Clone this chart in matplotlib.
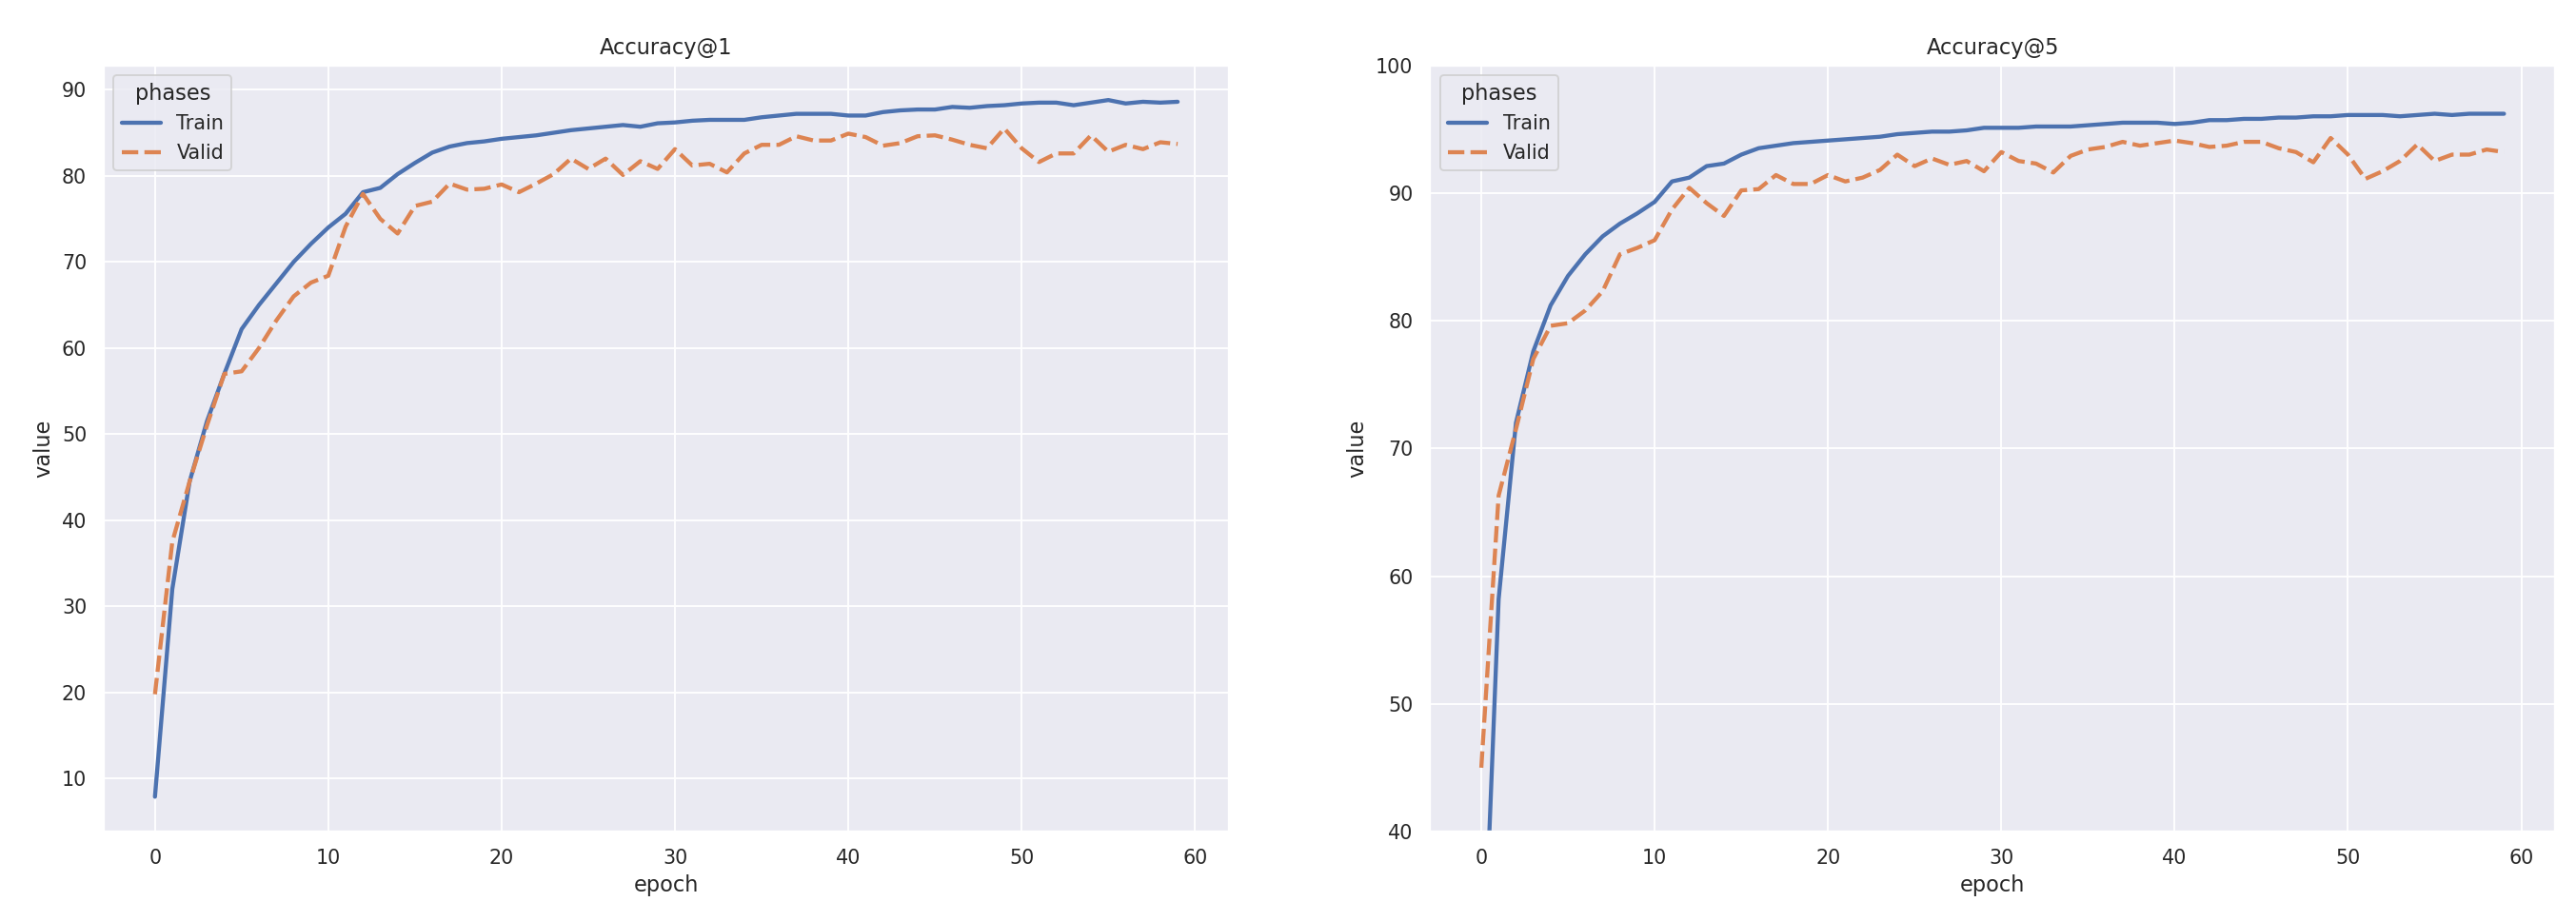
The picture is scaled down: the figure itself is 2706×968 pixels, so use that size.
import numpy as np
import pandas as pd
import matplotlib
matplotlib.use("Agg")
import matplotlib.pyplot as plt
import seaborn as sns

epochs = list(range(60))
phases = ["Train", "Valid"]

acc1_train = [7.9, 32.0, 44.5, 51.5, 57.0, 62.2, 65.0, 67.5, 70.0, 72.1,
              74.0, 75.6, 78.1, 78.6, 80.2, 81.5, 82.7, 83.4, 83.8, 84.0,
              84.3, 84.5, 84.7, 85.0, 85.3, 85.5, 85.7, 85.9, 85.7, 86.1,
              86.2, 86.4, 86.5, 86.5, 86.5, 86.8, 87.0, 87.2, 87.2, 87.2,
              87.0, 87.0, 87.4, 87.6, 87.7, 87.7, 88.0, 87.9, 88.1, 88.2,
              88.4, 88.5, 88.5, 88.2, 88.5, 88.8, 88.4, 88.6, 88.5, 88.6]
acc1_valid = [19.8, 37.5, 44.5, 51.0, 57.0, 57.3, 60.0, 63.2, 66.0, 67.6,
              68.4, 74.1, 77.9, 75.0, 73.3, 76.5, 77.0, 79.1, 78.4, 78.5,
              79.0, 78.1, 79.1, 80.2, 82.0, 80.8, 82.0, 80.1, 81.7, 80.8,
              83.1, 81.2, 81.4, 80.4, 82.6, 83.6, 83.6, 84.6, 84.1, 84.1,
              84.9, 84.5, 83.5, 83.8, 84.6, 84.7, 84.2, 83.6, 83.2, 85.5,
              83.2, 81.6, 82.6, 82.6, 84.7, 82.8, 83.6, 83.1, 83.9, 83.7]
acc5_train = [24.0, 58.2, 72.0, 77.6, 81.2, 83.5, 85.2, 86.6, 87.6, 88.4,
              89.3, 90.9, 91.2, 92.1, 92.3, 93.0, 93.5, 93.7, 93.9, 94.0,
              94.1, 94.2, 94.3, 94.4, 94.6, 94.7, 94.8, 94.8, 94.9, 95.1,
              95.1, 95.1, 95.2, 95.2, 95.2, 95.3, 95.4, 95.5, 95.5, 95.5,
              95.4, 95.5, 95.7, 95.7, 95.8, 95.8, 95.9, 95.9, 96.0, 96.0,
              96.1, 96.1, 96.1, 96.0, 96.1, 96.2, 96.1, 96.2, 96.2, 96.2]
acc5_valid = [45.0, 66.3, 71.5, 77.0, 79.6, 79.8, 80.8, 82.3, 85.2, 85.7,
              86.3, 88.7, 90.4, 89.2, 88.2, 90.2, 90.3, 91.4, 90.7, 90.7,
              91.4, 90.9, 91.2, 91.8, 93.0, 92.1, 92.7, 92.2, 92.5, 91.7,
              93.2, 92.5, 92.3, 91.6, 92.9, 93.4, 93.6, 94.0, 93.7, 93.9,
              94.1, 93.9, 93.6, 93.7, 94.0, 94.0, 93.5, 93.2, 92.4, 94.3,
              93.0, 91.1, 91.7, 92.5, 93.8, 92.5, 93.0, 93.0, 93.4, 93.2]

titles = ["Accuracy@1", "Accuracy@5"]


def long_df(train, valid):
    return pd.DataFrame({
        "epoch": epochs + epochs,
        "value": list(train) + list(valid),
        "phases": [phases[0]] * len(epochs) + [phases[1]] * len(epochs),
    })


sns.set_theme()
plt.rcParams["font.family"] = ["DejaVu Sans"]

fig, axes = plt.subplots(1, 2, figsize=(2706 / 135, 968 / 135), dpi=135)
fig.subplots_adjust(left=0.0403, right=0.9919, bottom=0.0971, top=0.9292,
                    wspace=0.179)

for ax, (tr, va), title in zip(axes,
                               [(acc1_train, acc1_valid), (acc5_train, acc5_valid)],
                               titles):
    df = long_df(tr, va)
    sns.lineplot(data=df, x="epoch", y="value", hue="phases", style="phases",
                 ax=ax, linewidth=2.3)
    ax.set_title(title)
    sns.move_legend(ax, "upper left", title="phases")

axes[1].set_ylim(40, 100)

fig.savefig("out.png", dpi=135)
